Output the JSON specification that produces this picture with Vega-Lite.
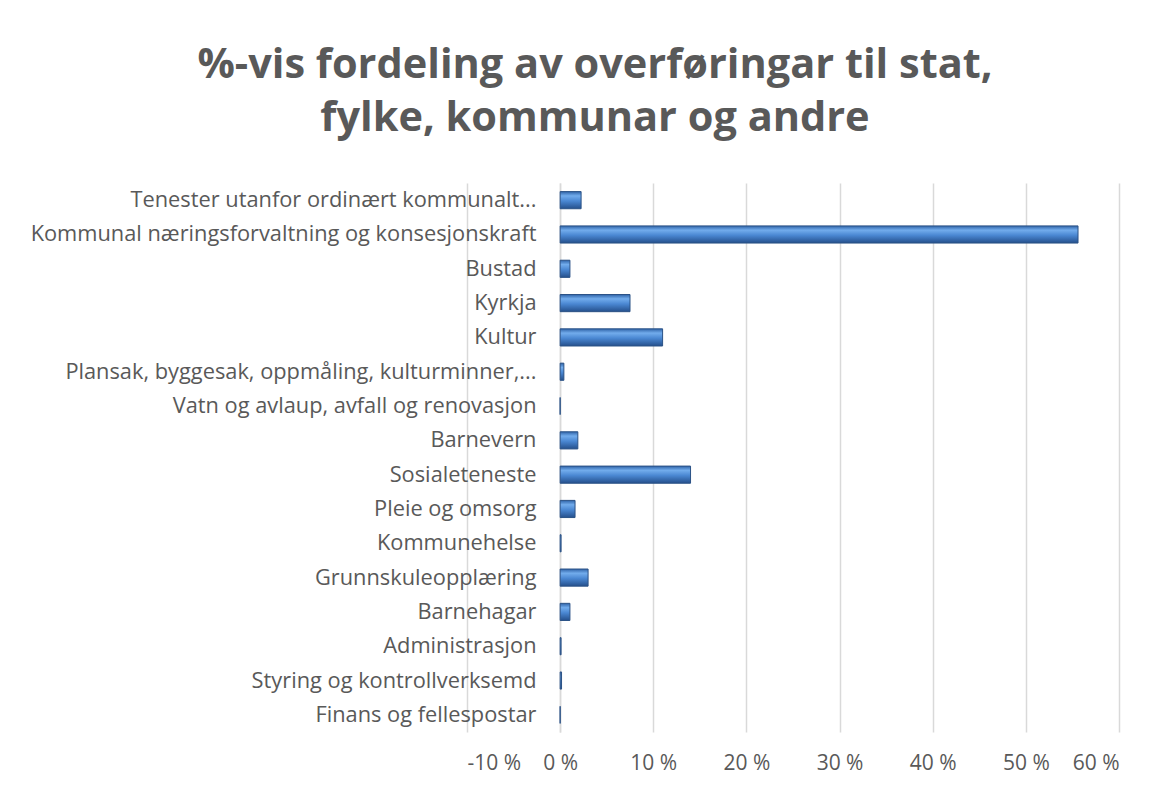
{
  "$schema": "https://vega.github.io/schema/vega-lite/v6.json",
  "autosize": {"type": "none"},
  "width": 652,
  "height": 549,
  "padding": {"left": 467, "top": 183, "right": 43, "bottom": 55},
  "background": "white",
  "title": {
    "text": ["%-vis fordeling av overføringar til stat,", "fylke, kommunar og andre"],
    "font": "Open Sans",
    "fontSize": 41.5,
    "fontWeight": "bold",
    "color": "#595959",
    "anchor": "middle",
    "dx": -198,
    "offset": 44,
    "lineHeight": 53
  },
  "data": {
    "values": [
      {"teneste": "Tenester utanfor ordinært kommunalt...", "prosent": 2.25},
      {"teneste": "Kommunal næringsforvaltning og konsesjonskraft", "prosent": 55.6},
      {"teneste": "Bustad", "prosent": 1.05},
      {"teneste": "Kyrkja", "prosent": 7.5},
      {"teneste": "Kultur", "prosent": 11.0},
      {"teneste": "Plansak, byggesak, oppmåling, kulturminner,...", "prosent": 0.4},
      {"teneste": "Vatn og avlaup, avfall og renovasjon", "prosent": 0.0},
      {"teneste": "Barnevern", "prosent": 1.9},
      {"teneste": "Sosialeteneste", "prosent": 14.0},
      {"teneste": "Pleie og omsorg", "prosent": 1.6},
      {"teneste": "Kommunehelse", "prosent": 0.1},
      {"teneste": "Grunnskuleopplæring", "prosent": 3.0},
      {"teneste": "Barnehagar", "prosent": 1.05},
      {"teneste": "Administrasjon", "prosent": 0.1},
      {"teneste": "Styring og kontrollverksemd", "prosent": 0.15},
      {"teneste": "Finans og fellespostar", "prosent": 0.0}
    ]
  },
  "mark": {
    "type": "bar",
    "color": {
      "gradient": "linear",
      "x1": 0, "y1": 0, "x2": 0, "y2": 1,
      "stops": [
        {"offset": 0, "color": "#2f63a8"},
        {"offset": 0.25, "color": "#72acec"},
        {"offset": 0.55, "color": "#4a87d2"},
        {"offset": 1, "color": "#25508c"}
      ]
    },
    "stroke": "#2b5286",
    "strokeWidth": 1
  },
  "encoding": {
    "y": {
      "field": "teneste",
      "type": "nominal",
      "sort": null,
      "title": null,
      "scale": {"paddingInner": 0.5, "paddingOuter": 0.25},
      "axis": {
        "offset": -93,
        "ticks": false,
        "domain": true,
        "domainColor": "#d9d9d9",
        "domainWidth": 1.5,
        "labelPadding": 24,
        "labelFont": "Open Sans",
        "labelFontSize": 21.8,
        "labelColor": "#595959",
        "labelLimit": 600,
        "grid": false
      }
    },
    "x": {
      "field": "prosent",
      "type": "quantitative",
      "title": null,
      "scale": {"domain": [-10, 60], "nice": false, "zero": false},
      "axis": {
        "values": [-10, 0, 10, 20, 30, 40, 50, 60],
        "labelExpr": "datum.value + ' %'",
        "domain": false,
        "ticks": false,
        "grid": true,
        "gridColor": "#d9d9d9",
        "gridWidth": 1.5,
        "labelPadding": 20,
        "labelFont": "Open Sans",
        "labelFontSize": 21,
        "labelColor": "#595959"
      }
    }
  },
  "config": {
    "view": {"stroke": null}
  }
}
